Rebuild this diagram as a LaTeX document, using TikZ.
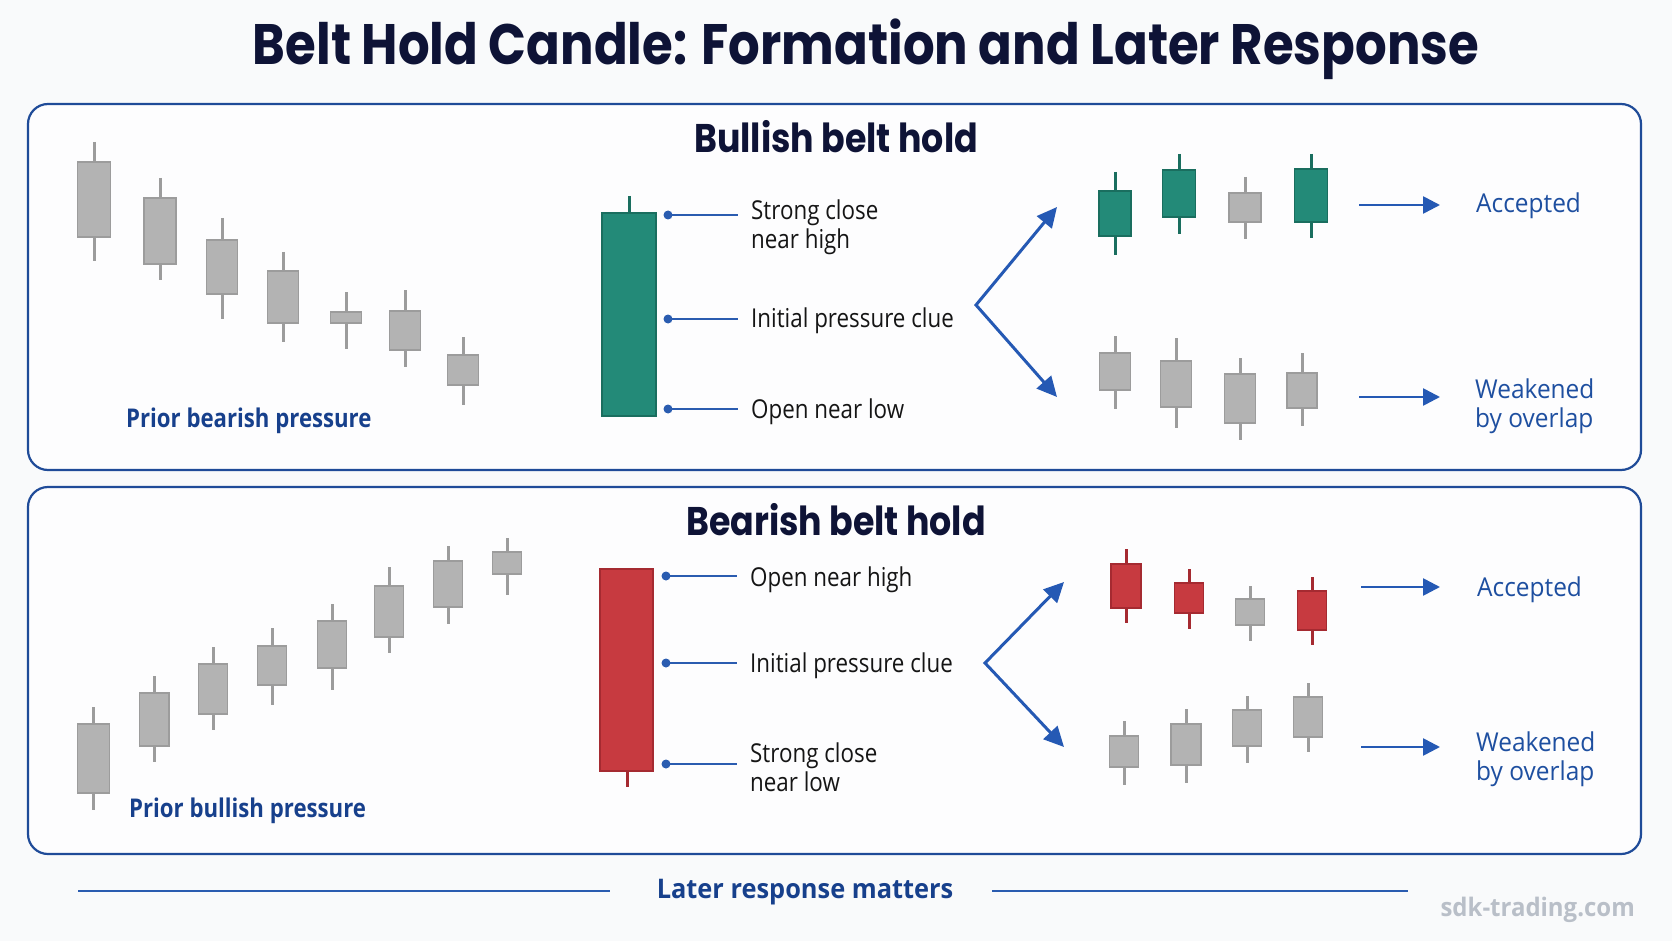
\documentclass[tikz,border=0pt]{standalone}
\usepackage{fontspec}
\usetikzlibrary{arrows.meta}
\setmainfont{Open Sans}
\newfontfamily\ttlfont[FakeStretch=0.873]{Poppins}
\newfontfamily\subfont[FakeStretch=0.87]{Poppins}
\newfontfamily\bdyfont[FakeStretch=0.86]{Open Sans}
\newfontfamily\widefont[FakeStretch=0.94]{Open Sans}
\definecolor{bgc}{HTML}{F9FAFB}
\definecolor{panelfill}{HTML}{FDFDFE}
\definecolor{panelblue}{HTML}{1F4B98}
\definecolor{navy}{HTML}{0E1336}
\definecolor{leadblue}{HTML}{2A5CB0}
\definecolor{arrowblue}{HTML}{2559B4}
\definecolor{txtblue}{HTML}{1E4FA0}
\definecolor{boldblue}{HTML}{17408C}
\definecolor{lblblack}{HTML}{151515}
\definecolor{cgreen}{HTML}{238A78}
\definecolor{cgreenD}{HTML}{1A6E5F}
\definecolor{cred}{HTML}{C73A40}
\definecolor{credD}{HTML}{A52A31}
\definecolor{cgray}{HTML}{B3B3B3}
\definecolor{cgrayD}{HTML}{9C9C9C}
\definecolor{sdkgray}{HTML}{B9BFC8}
\newcommand\cndl[7]{%
  \draw[#1wick] (#2,#4) -- (#2,#7);
  \draw[#1body] (#2-#3,#5) rectangle (#2+#3,#6);}
\begin{document}
\begin{tikzpicture}[x=1pt,y=-1pt,
  panel/.style={draw=panelblue, line width=2.2pt, rounded corners=20pt, fill=panelfill},
  gbody/.style={fill=cgreen, draw=cgreenD, line width=1.4pt},
  gwick/.style={draw=cgreenD, line width=3pt},
  rbody/.style={fill=cred, draw=credD, line width=1.4pt},
  rwick/.style={draw=credD, line width=3pt},
  kbody/.style={fill=cgray, draw=cgrayD, line width=1.2pt},
  kwick/.style={draw=cgrayD, line width=3pt},
  dot/.style={circle, fill=leadblue, inner sep=0pt, minimum size=9pt},
  leader/.style={draw=leadblue, line width=2pt},
  lbl/.style={inner sep=0pt, anchor=base west, text=lblblack, font=\bdyfont\fontsize{26}{29}\selectfont},
  outlbl/.style={inner sep=0pt, anchor=base west, text=txtblue, font=\widefont\fontsize{26}{29}\selectfont},
  priorlbl/.style={inner sep=0pt, anchor=base west, text=boldblue, font=\bdyfont\bfseries\fontsize{25.8}{29}\selectfont},
  ptitle/.style={inner sep=0pt, anchor=base, text=navy, font=\subfont\bfseries\fontsize{40}{44}\selectfont},
  fork/.style={draw=arrowblue, line width=3pt, {Triangle[length=20pt,width=19pt]}-{Triangle[length=20pt,width=19pt]}},
  shortarr/.style={draw=arrowblue, line width=2.6pt, -{Triangle[length=17pt,width=17pt]}},
  footline/.style={draw=leadblue, line width=2pt}
]
\useasboundingbox (0,0) rectangle (1672,941);
\fill[bgc] (0,0) rectangle (1672,941);

% title
\node[inner sep=0pt, anchor=base, text=navy, font=\ttlfont\bfseries\fontsize{57}{60}\selectfont] (title) at (866,65) {Belt Hold Candle: Formation and Later Response};

% panels
\draw[panel] (28,104) rectangle (1641,470);
\draw[panel] (28,487) rectangle (1641,854);

% ---------- top panel ----------
\node[ptitle] (t1) at (836,153) {Bullish belt hold};

\cndl{k}{94}{16.5}{142}{162}{237}{261}
\cndl{k}{160}{16}{178}{198}{264}{280}
\cndl{k}{222}{15.8}{218}{240}{294}{319}
\cndl{k}{283}{15.7}{252}{271}{323}{342}
\cndl{k}{346}{15.4}{292}{312}{323}{349}
\cndl{k}{405}{15.4}{290}{311}{350}{367}
\cndl{k}{463}{15.2}{337}{355}{385}{405}
\node[priorlbl] (pb1) at (126,427) {Prior bearish pressure};

% big green candle
\draw[gwick] (629,196) -- (629,213);
\draw[gbody] (602,213) rectangle (656,416);

\node[dot] (da1) at (668,215) {};
\node[dot] (da2) at (668,319) {};
\node[dot] (da3) at (668,409) {};
\coordinate (ea1) at (738,215);
\coordinate (ea2) at (738,319);
\coordinate (ea3) at (738,409);
\draw[leader] (da1.center) -- (ea1);
\draw[leader] (da2.center) -- (ea2);
\draw[leader] (da3.center) -- (ea3);
\node[lbl] (la1) at (751,220) {Strong close};
\node[lbl] (la1b) at (751,249) {near high};
\node[lbl] (la2) at (751,327) {Initial pressure clue};
\node[lbl] (la3) at (751,418) {Open near low};

\coordinate (va) at (976,305);
\coordinate (ua) at (1057,207);
\coordinate (wa) at (1057,397);
\draw[fork] (ua) -- (va) -- (wa);

\cndl{g}{1115}{16}{172}{191}{236}{255}
\cndl{g}{1179}{16.3}{154}{170}{217}{234}
\cndl{k}{1245}{16}{177}{193}{222}{239}
\cndl{g}{1311}{16.3}{154}{169}{222}{238}

\cndl{k}{1115}{15.3}{336}{353}{390}{409}
\cndl{k}{1176}{15.5}{338}{361}{407}{428}
\cndl{k}{1240}{15.3}{358}{374}{423}{440}
\cndl{k}{1302}{15}{353}{373}{408}{426}

\coordinate (sa1) at (1359,205);
\coordinate (sa2) at (1440,205);
\draw[shortarr] (sa1) -- (sa2);
\coordinate (sa3) at (1359,397);
\coordinate (sa4) at (1440,397);
\draw[shortarr] (sa3) -- (sa4);
\node[outlbl] (acc1) at (1476,213) {Accepted};
\node[outlbl] (wk1) at (1475,398) {Weakened};
\node[outlbl] (wk1b) at (1475,427) {by overlap};

% ---------- bottom panel ----------
\node[ptitle] (t2) at (836,535) {Bearish belt hold};

\cndl{k}{93.5}{15.7}{707}{724}{793}{810}
\cndl{k}{154}{14.9}{676}{693}{746}{762}
\cndl{k}{213}{14.7}{647}{664}{714}{730}
\cndl{k}{272}{14.7}{628}{646}{685}{705}
\cndl{k}{332}{14.7}{604}{621}{668}{690}
\cndl{k}{389}{14.7}{567}{586}{637}{653}
\cndl{k}{448}{14.8}{546}{561}{607}{624}
\cndl{k}{507}{14.7}{538}{552}{574}{595}
\node[priorlbl] (pb2) at (129,817) {Prior bullish pressure};

% big red candle
\draw[rwick] (627,771) -- (627,787);
\draw[rbody] (600,569) rectangle (653,771);

\node[dot] (db1) at (666,576) {};
\node[dot] (db2) at (666,663) {};
\node[dot] (db3) at (666,764) {};
\coordinate (eb1) at (737,576);
\coordinate (eb2) at (737,663);
\coordinate (eb3) at (737,764);
\draw[leader] (db1.center) -- (eb1);
\draw[leader] (db2.center) -- (eb2);
\draw[leader] (db3.center) -- (eb3);
\node[lbl] (lb1) at (750,586) {Open near high};
\node[lbl] (lb2) at (750,672) {Initial pressure clue};
\node[lbl] (lb3) at (750,762) {Strong close};
\node[lbl] (lb3b) at (750,791) {near low};

\coordinate (vb) at (985,663);
\coordinate (ub) at (1064,582);
\coordinate (wb) at (1064,747);
\draw[fork] (ub) -- (vb) -- (wb);

\cndl{r}{1126}{15}{549}{564}{608}{623}
\cndl{r}{1189}{14.7}{569}{583}{613}{629}
\cndl{k}{1250}{14.7}{586}{599}{625}{641}
\cndl{r}{1312}{14.7}{577}{591}{630}{645}

\cndl{k}{1124}{14.6}{721}{736}{767}{785}
\cndl{k}{1186}{15}{709}{724}{765}{783}
\cndl{k}{1247}{14.6}{696}{710}{746}{763}
\cndl{k}{1308}{14.6}{683}{697}{737}{752}

\coordinate (sb1) at (1361,587);
\coordinate (sb2) at (1440,587);
\draw[shortarr] (sb1) -- (sb2);
\coordinate (sb3) at (1361,747);
\coordinate (sb4) at (1440,747);
\draw[shortarr] (sb3) -- (sb4);
\node[outlbl] (acc2) at (1477,596) {Accepted};
\node[outlbl] (wk2) at (1476,751) {Weakened};
\node[outlbl] (wk2b) at (1476,780) {by overlap};

% ---------- footer ----------
\node[inner sep=0pt, anchor=base, text=boldblue, font=\widefont\bfseries\fontsize{27}{30}\selectfont] (foot) at (805,898) {Later response matters};
\coordinate (fl1) at (78,891);
\coordinate (fl2) at (610,891);
\coordinate (fr1) at (992,891);
\coordinate (fr2) at (1408,891);
\draw[footline] (fl1) -- (fl2);
\draw[footline] (fr1) -- (fr2);
\node[inner sep=0pt, anchor=base east, text=sdkgray, font=\widefont\bfseries\fontsize{25.5}{29}\selectfont] (sdk) at (1635,916) {sdk-trading.com};
\end{tikzpicture}
\end{document}
